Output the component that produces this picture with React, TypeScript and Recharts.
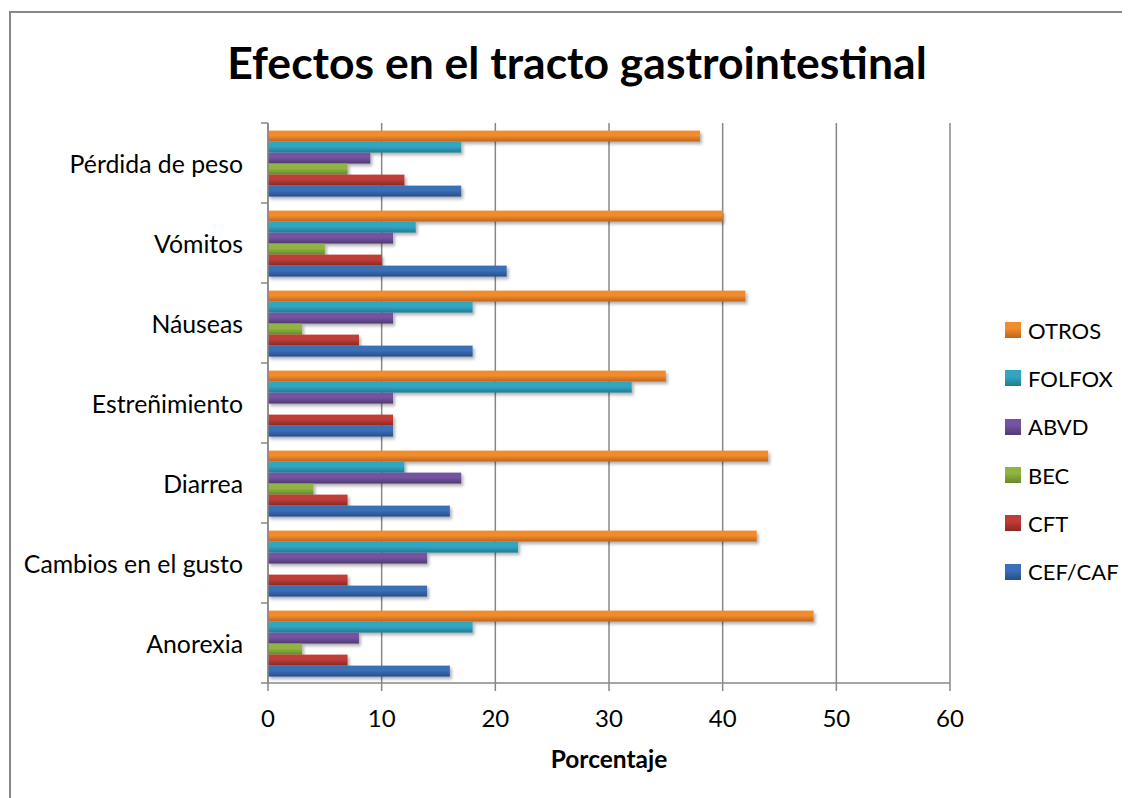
import React from 'react';
import { BarChart, Bar, XAxis, YAxis, CartesianGrid } from 'recharts';

const categories = [
  'Pérdida de peso',
  'Vómitos',
  'Náuseas',
  'Estreñimiento',
  'Diarrea',
  'Cambios en el gusto',
  'Anorexia',
];
const otros = [38, 40, 42, 35, 44, 43, 48];
const folfox = [17, 13, 18, 32, 12, 22, 18];
const abvd = [9, 11, 11, 11, 17, 14, 8];
const bec = [7, 5, 3, 0, 4, 0, 3];
const cft = [12, 10, 8, 11, 7, 7, 7];
const cefCaf = [17, 21, 18, 11, 16, 14, 16];
const xTicks = [0, 10, 20, 30, 40, 50, 60];

// series drawn top to bottom inside each category band
const series = [
  { key: 'OTROS', values: otros, light: '#F28C2C', dark: '#BE641E' },
  { key: 'FOLFOX', values: folfox, light: '#33A5C2', dark: '#217C94' },
  { key: 'ABVD', values: abvd, light: '#7453A0', dark: '#533975' },
  { key: 'BEC', values: bec, light: '#8FB541', dark: '#67872B' },
  { key: 'CFT', values: cft, light: '#C03C37', dark: '#8C2623' },
  { key: 'CEF/CAF', values: cefCaf, light: '#3B6FB7', dark: '#274E8B' },
];

const rows = categories.map((name, i) => {
  const row: Record<string, string | number> = { name };
  series.forEach(s => {
    row[s.key] = s.values[i];
  });
  return row;
});

const FONT = 'Lato, "Open Sans", sans-serif';
const GRID = '#878787';

const W = 1122;
const H = 790;
const MARGIN = { top: 115, right: 180, bottom: 70, left: 0 };
const Y_AXIS_W = 260;
const X_AXIS_H = 45;
const Y_TICK_SIZE = 7;
const Y_TICK_MARGIN = 18;
const BAND = (H - MARGIN.top - MARGIN.bottom - X_AXIS_H) / categories.length;

// category label at the band centre, tick marks on the band edges
const CategoryTick = (props: any) => {
  const { x, y, payload, index } = props;
  const x1 = x + Y_TICK_MARGIN;
  const x2 = x1 + Y_TICK_SIZE;
  return (
    <g>
      <text
        x={x}
        y={y}
        textAnchor="end"
        dominantBaseline="central"
        fontFamily={FONT}
        fontSize={24.8}
        fill="#000"
      >
        {payload.value}
      </text>
      <line x1={x1} x2={x2} y1={y - BAND / 2} y2={y - BAND / 2} stroke={GRID} strokeWidth={1.5} />
      {index === categories.length - 1 && (
        <line x1={x1} x2={x2} y1={y + BAND / 2} y2={y + BAND / 2} stroke={GRID} strokeWidth={1.5} />
      )}
    </g>
  );
};

const ShadedBar = (props: any) => {
  const { x, y, width, height, fill } = props;
  if (!width || width <= 0) return null;
  return <rect x={x} y={y} width={width} height={height} fill={fill} filter="url(#barShadow)" />;
};

const AxisTitle = (props: any) => {
  const vb = props.viewBox || {};
  return (
    <text
      x={vb.x + vb.width / 2}
      y={vb.y + 75}
      textAnchor="middle"
      dominantBaseline="central"
      fontFamily={FONT}
      fontSize={24.5}
      fontWeight={700}
      fill="#000"
    >
      Porcentaje
    </text>
  );
};

export default function App() {
  return (
    <div style={{ position: 'relative', width: W, height: H, background: '#fff', overflow: 'hidden' }}>
      <div
        style={{
          position: 'absolute',
          left: 1,
          top: 3,
          width: W + 10,
          height: H + 10,
          borderLeft: `2px solid ${GRID}`,
          borderTop: `2px solid ${GRID}`,
        }}
      />
      <div
        style={{
          position: 'absolute',
          left: 69,
          top: 29,
          width: 1000,
          textAlign: 'center',
          fontFamily: FONT,
          fontWeight: 700,
          fontSize: 44.5,
          lineHeight: '50px',
          color: '#000',
        }}
      >
        Efectos en el tracto gastrointestinal
      </div>

      <BarChart
        width={W}
        height={H}
        data={rows}
        layout="vertical"
        margin={MARGIN}
        barCategoryGap="9.5%"
        barGap={0}
        style={{ position: 'absolute', left: 0, top: 0 }}
      >
        <defs>
          {series.map((s, i) => (
            <linearGradient key={s.key} id={`barFill${i}`} x1="0" y1="0" x2="0" y2="1">
              <stop offset="0%" stopColor={s.light} />
              <stop offset="45%" stopColor={s.light} />
              <stop offset="100%" stopColor={s.dark} />
            </linearGradient>
          ))}
          <filter id="barShadow" x="-5%" y="-40%" width="115%" height="220%">
            <feDropShadow dx="2" dy="2.5" stdDeviation="1.6" floodColor="#000" floodOpacity="0.3" />
          </filter>
        </defs>
        <CartesianGrid horizontal={false} stroke={GRID} strokeWidth={1.5} />
        <XAxis
          type="number"
          domain={[0, 60]}
          ticks={xTicks}
          height={X_AXIS_H}
          tickSize={8}
          tickMargin={19}
          axisLine={{ stroke: GRID, strokeWidth: 1.5 }}
          tickLine={{ stroke: GRID, strokeWidth: 1.5 }}
          tick={{ fill: '#000', fontSize: 24, fontFamily: FONT }}
          label={<AxisTitle />}
        />
        <YAxis
          type="category"
          dataKey="name"
          width={Y_AXIS_W}
          tickSize={Y_TICK_SIZE}
          tickMargin={Y_TICK_MARGIN}
          tickLine={false}
          axisLine={{ stroke: GRID, strokeWidth: 1.5 }}
          tick={<CategoryTick />}
          interval={0}
        />
        {series.map((s, i) => (
          <Bar
            key={s.key}
            dataKey={s.key}
            fill={`url(#barFill${i})`}
            shape={<ShadedBar />}
            isAnimationActive={false}
          />
        ))}
      </BarChart>

      {/* legend, same top-to-bottom order as the bars */}
      <div style={{ position: 'absolute', left: 997, top: 298 }}>
        {series.map((s, i) => (
          <div
            key={s.key}
            style={{ display: 'flex', alignItems: 'center', height: 48.3, fontFamily: FONT, fontSize: 22, color: '#000' }}
          >
            <span
              style={{
                display: 'inline-block',
                width: 16,
                height: 16,
                marginRight: 7,
                background: `linear-gradient(${s.light} 40%, ${s.dark})`,
              }}
            />
            {s.key}
          </div>
        ))}
      </div>
    </div>
  );
}
